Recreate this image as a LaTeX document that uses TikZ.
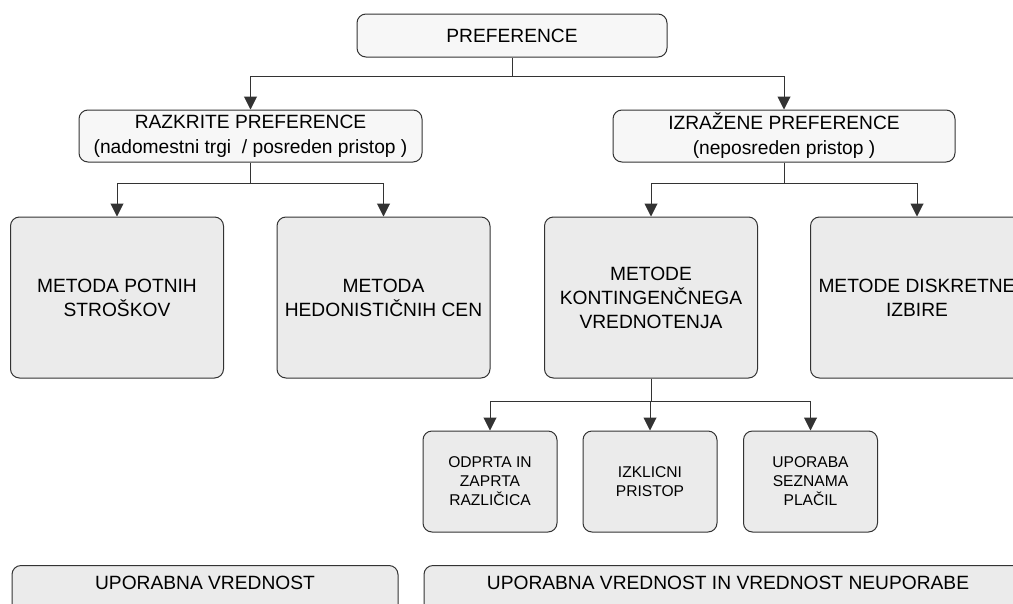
\documentclass[tikz,border=0pt]{standalone}
\usepackage{fontspec}
\setmainfont{Liberation Sans}
\usetikzlibrary{arrows.meta}
\tikzset{>={Triangle[width=13pt,length=13pt]}}

\definecolor{headfill}{HTML}{F7F7F7}
\definecolor{boxfill}{HTML}{EBEBEB}
\definecolor{edge}{HTML}{333333}

\tikzset{
  basebox/.style={draw=edge, line width=1pt, rounded corners=9pt, align=center, inner sep=0pt},
  headbox/.style={basebox, fill=headfill, font=\fontsize{19.2}{25}\selectfont},
  methodbox/.style={basebox, fill=boxfill, minimum width=213pt, minimum height=161pt, font=\fontsize{19.2}{24}\selectfont},
  subbox/.style={basebox, fill=boxfill, minimum width=134pt, minimum height=101pt, font=\fontsize{15.6}{19}\selectfont},
  valuebox/.style={basebox, fill=boxfill, anchor=north, inner ysep=10.5pt, text height=13.5pt, text depth=40pt, font=\fontsize{19.2}{24}\selectfont},
  link/.style={draw=edge, line width=1pt, ->}
}

\begin{document}
\begin{tikzpicture}[x=1pt,y=-1pt]

  \useasboundingbox (0,0) rectangle (1013,603);
  \clip (0,0) rectangle (1013,603);

  % top level
  \node[headbox, minimum width=310pt, minimum height=43pt] (pref) at (512,35.5) {PREFERENCE};

  \node[headbox, minimum width=343pt, minimum height=52pt] (razk) at (250.5,136) {RAZKRITE PREFERENCE\\(nadomestni trgi \ / posreden pristop )};
  \node[headbox, minimum width=342pt, minimum height=52pt] (izr) at (784,136) {IZRAŽENE PREFERENCE\\(neposreden pristop )};

  % methods
  \node[methodbox] (potni) at (117,297.5) {METODA POTNIH\\STROŠKOV};
  \node[methodbox] (hedon) at (383.5,297.5) {METODA\\HEDONISTIČNIH CEN};
  \node[methodbox] (kont) at (651,297.5) {METODE\\KONTINGENČNEGA\\VREDNOTENJA};
  \node[methodbox] (diskr) at (917,297.5) {METODE DISKRETNE\\IZBIRE};

  % contingent valuation variants
  \node[subbox] (odprta) at (490,481.5) {ODPRTA IN\\ZAPRTA\\RAZLIČICA};
  \node[subbox] (izklic) at (650,481.5) {IZKLICNI\\PRISTOP};
  \node[subbox] (placil) at (810.5,481.5) {UPORABA\\SEZNAMA\\PLAČIL};

  % values
  \node[valuebox, minimum width=386pt] (upor) at (205,565) {UPORABNA VREDNOST};
  \node[valuebox, minimum width=608pt] (neupor) at (728,565) {UPORABNA VREDNOST IN VREDNOST NEUPORABE};

  % connectors
  \draw[link] (pref.south) -- ++(0,19) -| (razk.north);
  \draw[link] (pref.south) -- ++(0,19) -| (izr.north);

  \draw[link] (razk.south) -- ++(0,21) -| (potni.north);
  \draw[link] (razk.south) -- ++(0,21) -| (hedon.north);

  \draw[link] (izr.south) -- ++(0,21) -| (kont.north);
  \draw[link] (izr.south) -- ++(0,21) -| (diskr.north);

  \draw[link] (kont.south) -- ++(0,23) -| (odprta.north);
  \draw[link] (kont.south) -- ++(0,23) -| (izklic.north);
  \draw[link] (kont.south) -- ++(0,23) -| (placil.north);

\end{tikzpicture}
\end{document}
